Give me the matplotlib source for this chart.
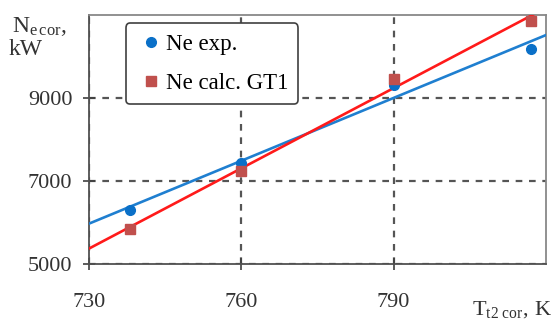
import numpy as np
import matplotlib
matplotlib.use("Agg")
import matplotlib.pyplot as plt

plt.rcParams['font.family'] = ['Liberation Serif', 'DejaVu Serif']
plt.rcParams['mathtext.fontset'] = 'custom'
plt.rcParams['mathtext.rm'] = 'Liberation Serif'
plt.rcParams['mathtext.it'] = 'Liberation Serif'

# temperature, K
t_exp = [738, 760, 790, 817]
ne_exp = [6300, 7440, 9310, 10170]
t_calc = [738, 760, 790, 817]
ne_calc = [5850, 7250, 9450, 10850]

xticks = [730, 760, 790]
yticks = [5000, 7000, 9000]

fig = plt.figure(figsize=(5.6, 3.23), dpi=100)
ax = fig.add_axes([0.159, 0.183, 0.816, 0.771])

xl = np.array([730, 820])
k1 = np.polyfit(t_exp, ne_exp, 1)
k2 = np.polyfit(t_calc, ne_calc, 1)

ax.plot(xl, np.polyval(k1, xl), color='#1f7fd0', lw=1.9, zorder=3)
ax.plot(xl, np.polyval(k2, xl), color='#ff1a1a', lw=1.9, zorder=4)
ax.plot(t_exp, ne_exp, 'o', color='#0a70c8', ms=7, ls='none', label='Ne exp.', zorder=5)
ax.plot(t_calc, ne_calc, 's', color='#c0504d', ms=7, ls='none', label='Ne calc. GT1', zorder=6)

ax.set_xlim(730, 820)
ax.set_ylim(5000, 11000)
ax.set_xticks(xticks)
ax.set_yticks(yticks)
ax.tick_params(direction='inout', length=8, width=1.2, color='#404040',
               labelsize=16, labelcolor='#333333')
ax.tick_params(axis='x', pad=17)
ax.tick_params(axis='y', pad=8)
ax.grid(True, ls=(0, (3, 3)), color='#555555', lw=1.6)
ax.set_axisbelow(True)
for s in ax.spines.values():
    s.set_color('#505050')
    s.set_linewidth(1.3)
ax.spines['top'].set_color('#888888')
ax.spines['right'].set_color('#888888')

leg = ax.legend(loc='upper left', bbox_to_anchor=(0.07, 0.985), fontsize=16.5,
                handletextpad=0.0, handlelength=1.3, borderpad=0.45,
                labelspacing=0.8, fancybox=True, framealpha=1,
                edgecolor='#404040', borderaxespad=0.2)
leg.get_frame().set_linewidth(1.2)

fig.text(0.022, 0.902, r'$\mathrm{N_{e\,cor},}$', fontsize=17, color='#333333',
         ha='left', va='baseline')
fig.text(0.016, 0.83, 'kW', fontsize=17, color='#333333', ha='left', va='baseline')
fig.text(0.843, 0.027, r'$\mathrm{T_{t2\ cor},\,K}$', fontsize=16, color='#333333',
         ha='left', va='baseline')

fig.savefig('out.png', dpi=100)
